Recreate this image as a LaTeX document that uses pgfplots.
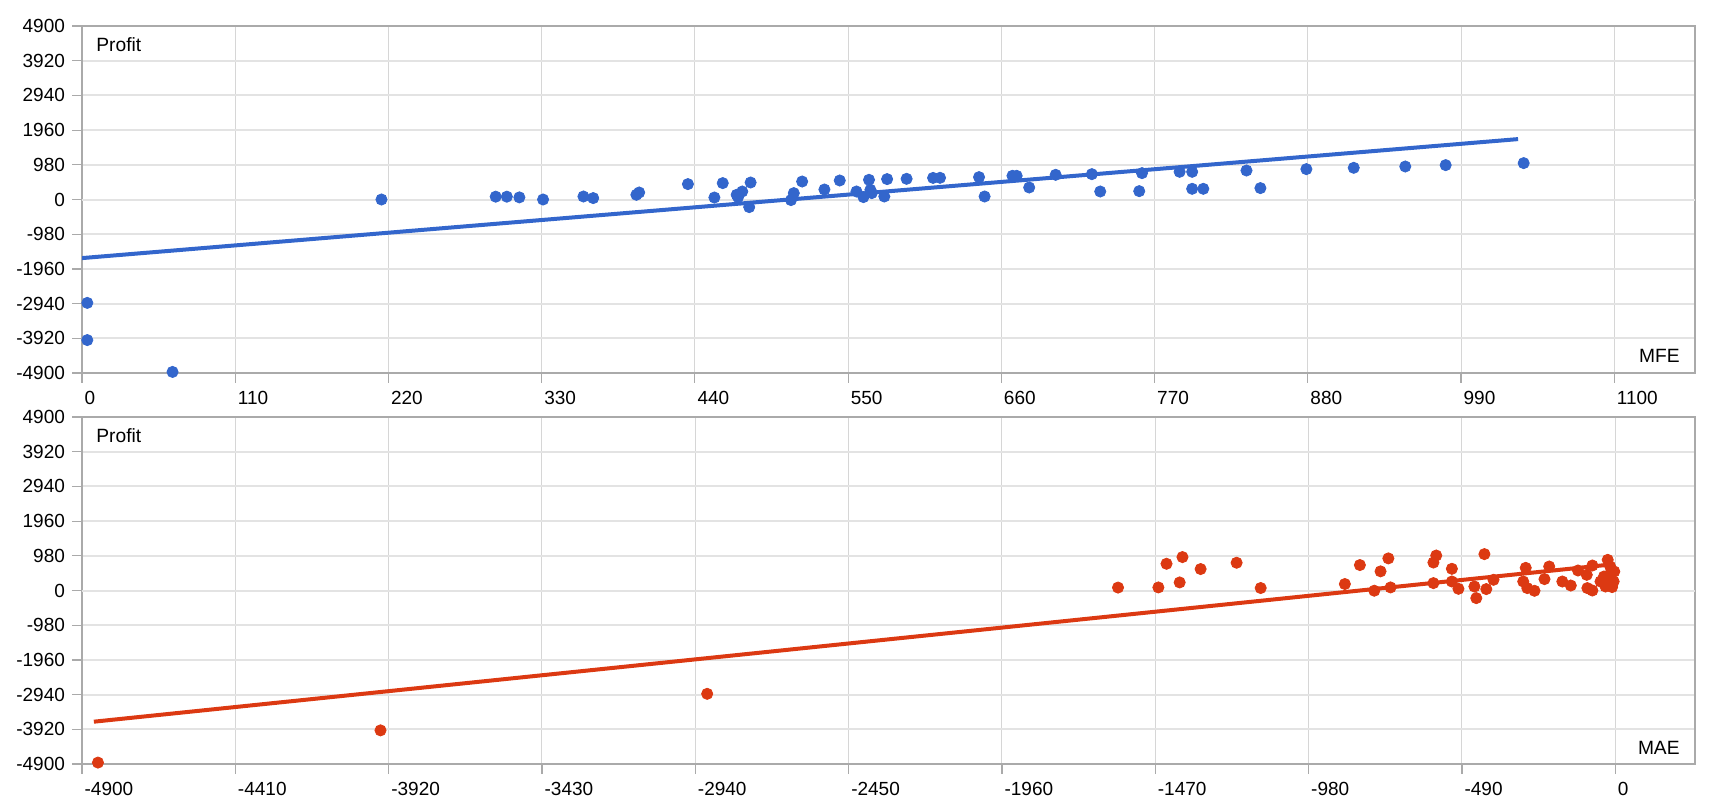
\documentclass[border=0pt]{standalone}
\usepackage{pgfplots}
\pgfplotsset{compat=1.18}
\usepackage{fontspec}
\setmainfont{Liberation Sans}
\definecolor{gblue}{HTML}{3366CC}
\definecolor{gred}{HTML}{DC3912}
\definecolor{hgrid}{HTML}{E3E3E3}
\definecolor{vgrid}{HTML}{D6D6D6}
\definecolor{frm}{HTML}{AAAAAA}
\definecolor{zerol}{HTML}{C8C8C8}

\pgfplotstableread{
x y
3.8 -2920
3.8 -3970
65 -4870
215 0
297 80
305 80
314 60
331 0
360 85
367 40
398 133
400 198
435 435
454 56
460 463
470 133
474 226
471 68
480 480
479 -215
509 -17
511 180
517 508
533 282
544 537
556 226
561 68
565 556
566 274
567 180
576 85
578 576
592 584
611 610
616 613
644 632
648 85
668 669
671 669
680 339
699 697
725 716
731 226
759 236
761 745
788 782
797 782
797 302
805 302
836 819
846 322
879 858
913 895
950 932
979 971
1035 1028
}\mfe

\pgfplotstableread{
x y
-4849 -4860
-3946 -3950
-2902 -2918
-1589 83
-1460 87
-1434 755
-1383 944
-1392 228
-1325 606
-1210 784
-1133 70
-864 183
-816 719
-750 541
-725 907
-770 -6
-718 87
-572 988
-581 790
-581 209
-522 613
-522 254
-501 48
-450 113
-444 -215
-418 1028
-412 40
-389 302
-294 254
-286 640
-281 68
-258 -8
-226 322
-211 678
-169 254
-142 141
-119 565
-91 443
-73 706
-89 68
-73 0
-24 866
-16 678
-3 536
-36 395
-47 254
-31 113
-10 96
-20 302
-5 254
-15 480
}\mae

\pgfplotsset{
  myaxis/.style={
    scale only axis, width=806.5pt, height=173.5pt,
    ymin=-4900, ymax=4900,
    ytick={-4900,-3920,-2940,-1960,-980,0,980,1960,2940,3920,4900},
    grid=major,
    x grid style={draw=vgrid, line width=0.5pt},
    y grid style={draw=hgrid, line width=1pt},
    axis line style={draw=frm, line width=0.6pt},
    tick align=outside, xtick pos=bottom, ytick pos=left,
    major tick length=5pt,
    tick style={draw=frm, line width=0.6pt},
    /pgf/number format/assume math mode=true,
    /pgf/number format/1000 sep={},
    tick label style={font=\fontsize{9.5}{11}\selectfont, text=black},
    xticklabel style={anchor=north west, xshift=-2.2pt, yshift=-0.5pt},
    yticklabel style={anchor=east},
    extra y ticks={0}, extra y tick labels={},
    extra y tick style={grid style={draw=zerol, line width=1.2pt}},
  }
}

\begin{document}
\begin{tikzpicture}
\path[use as bounding box] (0,0) rectangle (860pt,-400pt);
\begin{axis}[myaxis, at={(41pt,-13pt)}, anchor=north west,
  xmin=0, xmax=1158,
  xtick={0,110,220,330,440,550,660,770,880,990,1100}]
  \addplot[only marks, mark=*, mark size=2.8pt, color=gblue, mark options={draw=gblue, fill=gblue}] table[x=x,y=y] {\mfe};
  \addplot[gblue, line width=2pt] coordinates {(0,-1655) (1031,1706)};
  \node[anchor=north west, inner sep=0pt, font=\fontsize{9.6}{11}\selectfont] at (rel axis cs:0,1) [xshift=7pt, yshift=-5.5pt] {Profit};
  \node[anchor=base east, inner sep=0pt, font=\fontsize{9.6}{11}\selectfont] at (rel axis cs:1,0) [xshift=-7.5pt, yshift=5pt] {MFE};
\end{axis}
\begin{axis}[myaxis, at={(41pt,-208.5pt)}, anchor=north west,
  xmin=-4900, xmax=255,
  xtick={-4900,-4410,-3920,-3430,-2940,-2450,-1960,-1470,-980,-490,0}]
  \addplot[only marks, mark=*, mark size=2.8pt, color=gred, mark options={draw=gred, fill=gred}] table[x=x,y=y] {\mae};
  \addplot[gred, line width=2pt] coordinates {(-4862,-3705) (-24,725)};
  \node[anchor=north west, inner sep=0pt, font=\fontsize{9.6}{11}\selectfont] at (rel axis cs:0,1) [xshift=7pt, yshift=-5.5pt] {Profit};
  \node[anchor=base east, inner sep=0pt, font=\fontsize{9.6}{11}\selectfont] at (rel axis cs:1,0) [xshift=-7.5pt, yshift=5pt] {MAE};
\end{axis}
\end{tikzpicture}
\end{document}
